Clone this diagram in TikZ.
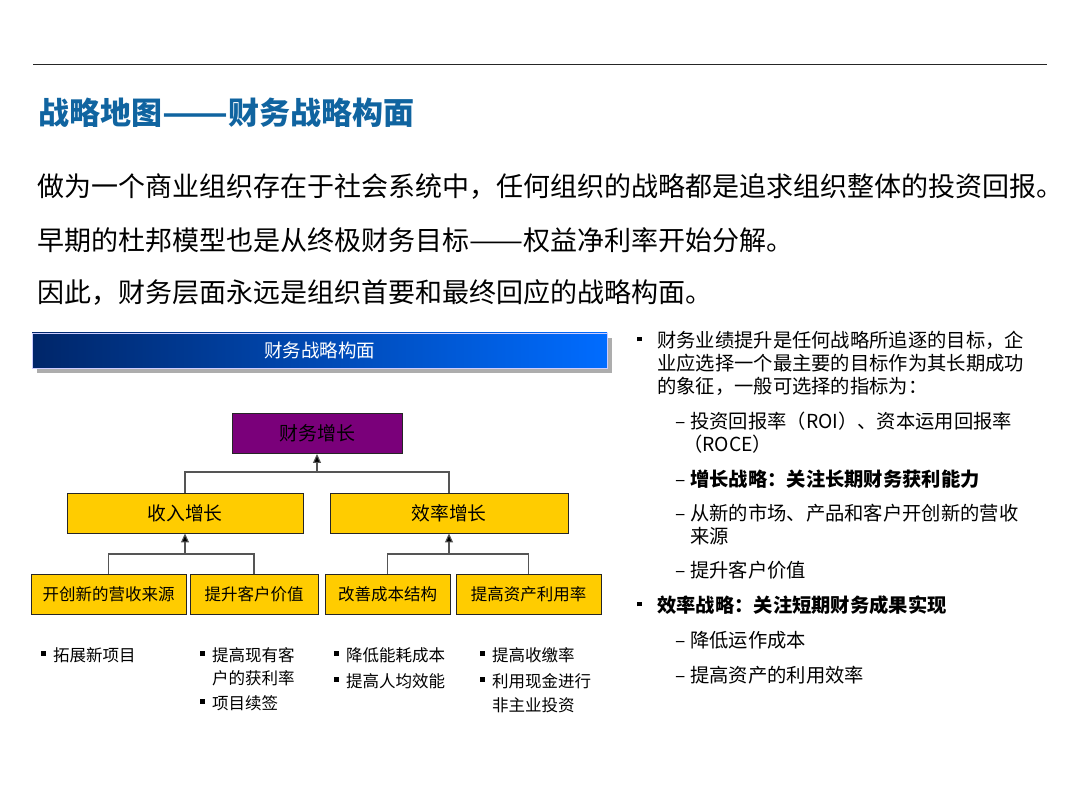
\documentclass[tikz,border=0pt]{standalone}
\usepackage{fontspec}
\usepackage{graphicx}
\setmainfont{Noto Sans CJK SC}
\usetikzlibrary{arrows.meta,shadows}
\usepackage{xcolor}
\definecolor{titleblue}{RGB}{16,100,160}
\definecolor{bardark}{RGB}{0,38,105}
\definecolor{barlight}{RGB}{0,108,255}
\definecolor{boxyellow}{RGB}{255,204,0}
\definecolor{boxpurple}{RGB}{122,0,122}
\definecolor{linkgray}{RGB}{85,85,85}
\newcommand{\sqbul}{\raisebox{0.32em}{\rule{4.5pt}{4.5pt}}}
\newcommand{\fs}[2]{\fontsize{#1}{#2}\selectfont}
\newcommand{\wdash}[1]{\resizebox{#1}{\height}{——}}

\begin{document}
\begin{tikzpicture}[x=1pt,y=-1pt,
	goal/.style={draw=black!85,line width=.9pt,minimum height=40pt,inner sep=0pt,anchor=center},
	upper/.style={goal,fill=boxyellow,font=\fs{18.8}{20}},
	lower/.style={goal,fill=boxyellow,font=\fs{16.5}{20}},
	link/.style={draw=linkgray,line width=1.1pt},
	up/.style={link,-{Triangle[width=8pt,length=9pt,fill=black]}},
	plain/.style={anchor=west,inner sep=0pt,align=left}
	]
	\useasboundingbox (0,0) rectangle (1080,810);
	
	\draw[black!85,line width=1pt] (33,65) -- (1047,65);
	
	\node[plain,font=\fs{31}{34}\bfseries,text=titleblue] (title) at (38,113) {战略地图\wdash{66pt}财务战略构面};
	
	\node[plain,font=\fs{27}{30}] (l1) at (37,187) {做为一个商业组织存在于社会系统中，任何组织的战略都是追求组织整体的投资回报。};
	\node[plain,font=\fs{27}{30}] (l2) at (37,240) {早期的杜邦模型也是从终极财务目标\wdash{54pt}权益净利率开始分解。};
	\node[plain,font=\fs{27}{30}] (l3) at (37,292) {因此，财务层面永远是组织首要和最终回应的战略构面。};
	
	\node[minimum width=575pt,minimum height=35pt,inner sep=0pt,
	left color=bardark,right color=barlight,draw=white!80!blue,line width=.5pt,
	drop shadow={shadow xshift=5pt,shadow yshift=-5pt,fill=black!32,opacity=1},
	text=white,font=\fs{18.5}{20}] (hdr) at (319.5,350.5) {财务战略构面};
	
	\node[goal,fill=boxpurple,minimum width=170pt,font=\fs{19}{20}] (fin) at (317,433.5) {财务增长};
	\node[upper,minimum width=236pt] (rev) at (185,513) {收入增长};
	\node[upper,minimum width=238pt] (eff) at (449,513) {效率增长};
	
	\node[lower,minimum width=155pt] (b1) at (108.5,594) {开创新的营收来源};
	\node[lower,minimum width=128pt] (b2) at (254,594) {提升客户价值};
	\node[lower,minimum width=125pt] (b3) at (387.5,594) {改善成本结构};
	\node[lower,minimum width=145pt] (b4) at (528.5,594) {提高资产利用率};
	
	\coordinate (j1) at (317,472);
	\coordinate (j2) at (185,554);
	\coordinate (j3) at (449,554);
	
	\draw[link] (rev.north) |- (j1) -| (eff.north);
	\draw[up] (j1) -- (fin.south);
	\draw[link] (b1.north) |- (j2) -| (b2.north);
	\draw[up] (j2) -- (rev.south);
	\draw[link] (b3.north) |- (j3) -| (b4.north);
	\draw[up] (j3) -- (eff.south);
	
	\node[plain,anchor=north west,font=\fs{16.5}{24}] (n1) at (41,647) {\makebox[12pt][l]{\sqbul}拓展新项目};
	\node[plain,anchor=north west,font=\fs{16.5}{23}] (n2) at (200,647)
	{\makebox[12pt][l]{\sqbul}提高现有客\\\hspace*{12pt}户的获利率\\[2pt]\makebox[12pt][l]{\sqbul}项目续签};
	\node[plain,anchor=north west,font=\fs{16.5}{26}] (n3) at (334,647)
	{\makebox[12pt][l]{\sqbul}降低能耗成本\\\makebox[12pt][l]{\sqbul}提高人均效能};
	\node[plain,anchor=north west,font=\fs{16.5}{24}] (n4) at (480,647)
	{\makebox[12pt][l]{\sqbul}提高收缴率\\[2pt]\makebox[12pt][l]{\sqbul}利用现金进行\\\hspace*{12pt}非主业投资};
	
	\node[plain,anchor=north west,font=\fs{19.3}{23}] (side) at (637,331)
	{\makebox[20pt][l]{\sqbul}财务业绩提升是任何战略所追逐的目标，企\\
		\hspace*{20pt}业应选择一个最主要的目标作为其长期成功\\
		\hspace*{20pt}的象征，一般可选择的指标为：\\[12pt]
		\hspace*{38pt}\makebox[15pt][l]{–}投资回报率（ROI）、资本运用回报率\\
		\hspace*{46pt}（ROCE）\\[12pt]
		\hspace*{38pt}\makebox[15pt][l]{–}\textbf{增长战略：关注长期财务获利能力}\\[11pt]
		\hspace*{38pt}\makebox[15pt][l]{–}从新的市场、产品和客户开创新的营收\\
		\hspace*{53pt}来源\\[11pt]
		\hspace*{38pt}\makebox[15pt][l]{–}提升客户价值\\[12pt]
		\makebox[20pt][l]{\sqbul}\textbf{效率战略：关注短期财务成果实现}\\[12pt]
		\hspace*{38pt}\makebox[15pt][l]{–}降低运作成本\\[12pt]
		\hspace*{38pt}\makebox[15pt][l]{–}提高资产的利用效率};
\end{tikzpicture}
\end{document}
